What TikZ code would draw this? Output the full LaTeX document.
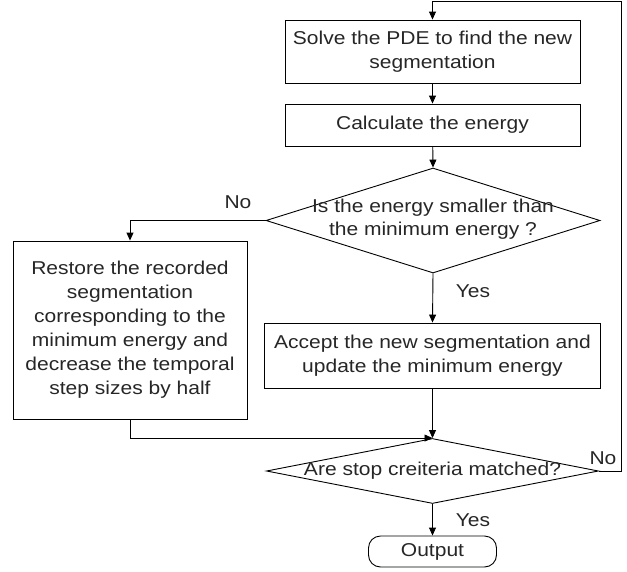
\documentclass[tikz,border=0pt]{standalone}
\usepackage{fontspec}
\setmainfont{Liberation Sans}[FakeStretch=1.13]
\usetikzlibrary{shapes.geometric,arrows.meta}
\begin{document}
\begin{tikzpicture}[x=1pt,y=-1pt,
  every node/.style={font=\fontsize{18.6}{24}\selectfont, text=black!85},
  proc/.style={draw=black, line width=0.9pt, inner sep=0pt, align=center},
  dec/.style={draw=black, diamond, line width=0.9pt, inner sep=0pt},
  txt/.style={inner sep=0pt, align=center},
  arr/.style={-{Triangle[length=8pt,width=7pt]}, line width=0.9pt},
  ln/.style={line width=0.9pt}]
\useasboundingbox (0,0) rectangle (627,571);

\node[proc, minimum width=295pt, minimum height=63pt] (solve) at (432.5,51.5) {Solve the PDE to find the new\\segmentation};
\node[proc, minimum width=295pt, minimum height=42pt] (calc) at (432.5,125) {Calculate the energy};
\node[dec, minimum width=334pt, minimum height=105pt] (cmp) at (433,220.5) {};
\node[txt, font=\fontsize{18.6}{23}\selectfont] (cmpt) at (433,219) {Is the energy smaller than\\the minimum energy ?};
\node[proc, minimum width=234pt, minimum height=178pt] (restore) at (130,330) {Restore the recorded\\segmentation\\corresponding to the\\minimum energy and\\decrease the temporal\\step sizes by half};
\node[proc, minimum width=336pt, minimum height=65pt] (accept) at (432.5,355.5) {Accept the new segmentation and\\update the minimum energy};
\node[dec, minimum width=332pt, minimum height=65pt] (stop) at (432.5,471) {};
\node[txt] (stopt) at (432.5,471) {Are stop creiteria matched?};
\node[proc, rounded corners=12pt, minimum width=128pt, minimum height=31pt] (out) at (432.5,551.5) {Output};

\node[txt] (no1) at (238,202) {No};
\node[txt] (yes1) at (473,291) {Yes};
\node[txt] (no2) at (603,458) {No};
\node[txt] (yes2) at (473,520) {Yes};

\coordinate (rt) at (621,471);
\coordinate (tr) at (621,1);
\coordinate (tl) at (432.5,1);

\draw[arr] (solve) -- (calc);
\draw[arr] (calc) -- (cmp.north);
\draw[arr] (cmp.west) -| (restore.north);
\draw[arr] (cmp.south) -- (accept.north);
\draw[arr] (accept.south) -- (stop.north);
\draw[arr] (restore.south) |- (stop.north);
\draw[arr] (stop.south) -- (out.north);
\draw[arr] (stop.east) -- (rt) -- (tr) -- (tl) -- (solve.north);
\end{tikzpicture}
\end{document}
